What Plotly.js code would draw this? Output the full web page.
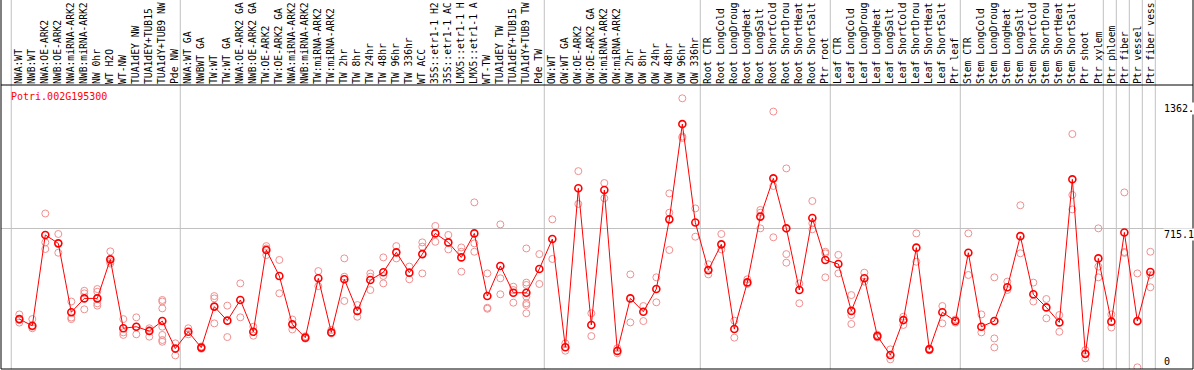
<!DOCTYPE html>
<html>
<head>
<meta charset="utf-8">
<script src="https://cdn.plot.ly/plotly-3.0.1.min.js"></script>
<style>html,body{margin:0;padding:0;background:#fff;}#chart{width:1194px;height:370px;}</style>
</head>
<body>
<div id="chart"></div>
<script>
const geneName = "Potri.002G195300";

const categories = [
  "NWA:WT","NWB:WT","NWA:OE-ARK2","NWB:OE-ARK2","NWA:miRNA-ARK2","NWB:miRNA-ARK2","NW 0hr","WT H2O","WT-NW","TUA1dEY NW","TUA1dEY+TUB15 NW","TUA1dY+TUB9 NW","Pde NW",
  "NWA:WT GA","NWBWT GA","TW:WT","TW:WT GA","NWA:OE-ARK2 GA","NWB:OE-ARK2 GA","TW:OE-ARK2","TW:OE-ARK2 GA","NWA:miRNA-ARK2 GA","NWB:miRNA-ARK2 GA","TW:miRNA-ARK2","TW:miRNA-ARK2 GA","TW 2hr","TW 8hr","TW 24hr","TW 48hr","TW 96hr","TW 336hr","WT ACC","35S::etr1-1 H2O","35S::etr1-1 ACC","LMX5::etr1-1 H2O","LMX5::etr1-1 ACC","WT-TW","TUA1dEY TW","TUA1dEY+TUB15 TW","TUA1dY+TUB9 TW","Pde TW",
  "OW:WT","OW:WT GA","OW:OE-ARK2","OW:OE-ARK2 GA","OW:miRNA-ARK2","OW:miRNA-ARK2 GA","OW 2hr","OW 8hr","OW 24hr","OW 48hr","OW 96hr","OW 336hr",
  "Root CTR","Root LongCold","Root LongDrought","Root LongHeat","Root LongSalt","Root ShortCold","Root ShortDrought","Root ShortHeat","Root ShortSalt","Ptr root",
  "Leaf CTR","Leaf LongCold","Leaf LongDrought","Leaf LongHeat","Leaf LongSalt","Leaf ShortCold","Leaf ShortDrought","Leaf ShortHeat","Leaf ShortSalt","Ptr leaf",
  "Stem CTR","Stem LongCold","Stem LongDrought","Stem LongHeat","Stem LongSalt","Stem ShortCold","Stem ShortDrought","Stem ShortHeat","Stem ShortSalt","Ptr shoot","Ptr xylem",
  "Ptr phloem","Ptr fiber","Ptr vessel","Ptr fiber vessel"
];

// the reference shows at most 14 characters of each label
const maxLabelChars = 14;

// number of categories in each separated group
const groupSizes = [13, 28, 12, 10, 10, 11, 1, 1, 1, 1];

const means = [
  250,216,681,638,285,356,356,556,203,211,189,240,99,
  185,104,314,242,348,185,604,471,223,155,459,182,454,292,450,490,592,488,583,689,643,566,689,368,522,385,385,507,
  660,106,920,220,911,87,356,288,404,761,1249,745,
  501,633,199,438,775,971,715,399,768,553,
  532,292,459,163,66,245,616,95,285,240,
  590,211,240,413,675,377,310,233,966,72,561,
  237,694,240,491
];

const replicates = [
  [274,246,232],[250,211,203],[791,643,609],[686,638,590],[340,258,250],[395,382,300],[404,390,331,319],[597,544,535],[250,182,169],[259,211,172],[203,194,160],[348,340,305,211,169,143,134],[126,64],
  [203,172],[110,98],[368,356,228],[319,158],[433,259],[211,165],[624,612,578],[553,382],[248,197],[162,150],[496,419],[194,177],[561,467,343],[322,262],[484,467,399],[566,471,433],[624,561],[519,454],[643,621,484],[727,646],[681,607],[617,595,493],[848,638,595],[484,308,303],[735,459,377],[416,399,334],[612,437,425,365,331,322,280],[583,430],
  [761,558],[126,88],[1008,840],[280,163],[947,869],[101,75],[479,233],[317,240],[464,336],[894,795,604],[1381,1185,1178],[817,672],
  [531,479],[686,607],[242,155],[454,430],[809,795,715],[1313,932,669],[1022,583,539],[433,331],[855,741,710],[595,587,464],
  [579,484],[373,271,225],[488,442],[170,156],[95,44],[262,220],[689,544],[100,90],[317,228],[248,232],
  [689,476],[274,182],[464,151,105],[442,399],[833,587],[437,340],[353,254],[271,185],[1198,886,812],[91,49],[715,519,464],
  [274,207],[899,594,589],[484,236,3],[595,476,413]
];

const yTickVals = [0, 715.1, 1362];
const yTickText = ["0", "715.1", "1362."];

const idx = categories.map((c, i) => i);
const tickText = categories.map(c => c.slice(0, maxLabelChars));
const repX = [], repY = [];
replicates.forEach((arr, i) => arr.forEach(v => { repX.push(i); repY.push(v); }));

const FONT = "DejaVu Sans Mono, monospace";

// group separators
const shapes = [];
let acc = 0;
const bounds = [-0.62];
groupSizes.forEach(n => { acc += n; bounds.push(acc - 1 + 0.38); });
bounds.forEach(b => {
  shapes.push({type: "line", xref: "x", yref: "paper", x0: b, x1: b, y0: 0, y1: 1.31,
    line: {color: "#c0c0c0", width: 1}, layer: "below"});
});
shapes.push({type: "rect", xref: "paper", yref: "paper", x0: 0, x1: 1, y0: 0, y1: 1.31,
  line: {color: "#000", width: 1}});
shapes.push({type: "line", xref: "paper", yref: "paper", x0: 0, x1: 1, y0: 1, y1: 1,
  line: {color: "#000", width: 1}});

const annotations = [
  {xref: "paper", yref: "paper", x: 0.0065, y: 0.958, xanchor: "left", yanchor: "middle",
   text: geneName, showarrow: false, font: {family: FONT, size: 10, color: "#ff0000"}}
];
yTickVals.forEach((v, i) => {
  annotations.push({xref: "paper", yref: "y", x: 0.9745, y: v, xanchor: "left",
    yanchor: v === 0 ? "bottom" : "top", text: yTickText[i], showarrow: false,
    bgcolor: "#ffffff", borderpad: 0,
    font: {family: FONT, size: 10, color: "#000"}});
});

const traces = [
  {x: repX, y: repY, type: "scatter", mode: "markers", hoverinfo: "skip",
   marker: {symbol: "circle-open", size: 7, color: "#f09090", line: {width: 1, color: "#f09090"}}},
  {x: idx, y: means, type: "scatter", mode: "lines+markers", hoverinfo: "skip",
   line: {color: "#ff0000", width: 1},
   marker: {symbol: "circle-open", size: 7, color: "#ff0000", line: {width: 1.6, color: "#ff0000"}}}
];

const layout = {
  width: 1194, height: 370,
  margin: {l: 1, r: 1, t: 85, b: 1, pad: 0},
  paper_bgcolor: "#ffffff", plot_bgcolor: "#ffffff",
  showlegend: false, hovermode: false,
  xaxis: {
    range: [-1.408, 90.28], side: "top", tickmode: "array", tickvals: idx, ticktext: tickText,
    tickangle: -90, ticks: "", showgrid: false, zeroline: false, showline: false,
    tickfont: {family: FONT, size: 9.7, color: "#000"}, automargin: false, fixedrange: true
  },
  yaxis: {
    range: [-5.6, 1449.2], tickmode: "array", tickvals: [715.1], showticklabels: false,
    ticks: "", showgrid: true, gridcolor: "#c0c0c0", gridwidth: 1, zeroline: false, showline: false,
    automargin: false, fixedrange: true
  },
  shapes: shapes,
  annotations: annotations
};

Plotly.newPlot("chart", traces, layout, {displayModeBar: false, staticPlot: true});
</script>
</body>
</html>
